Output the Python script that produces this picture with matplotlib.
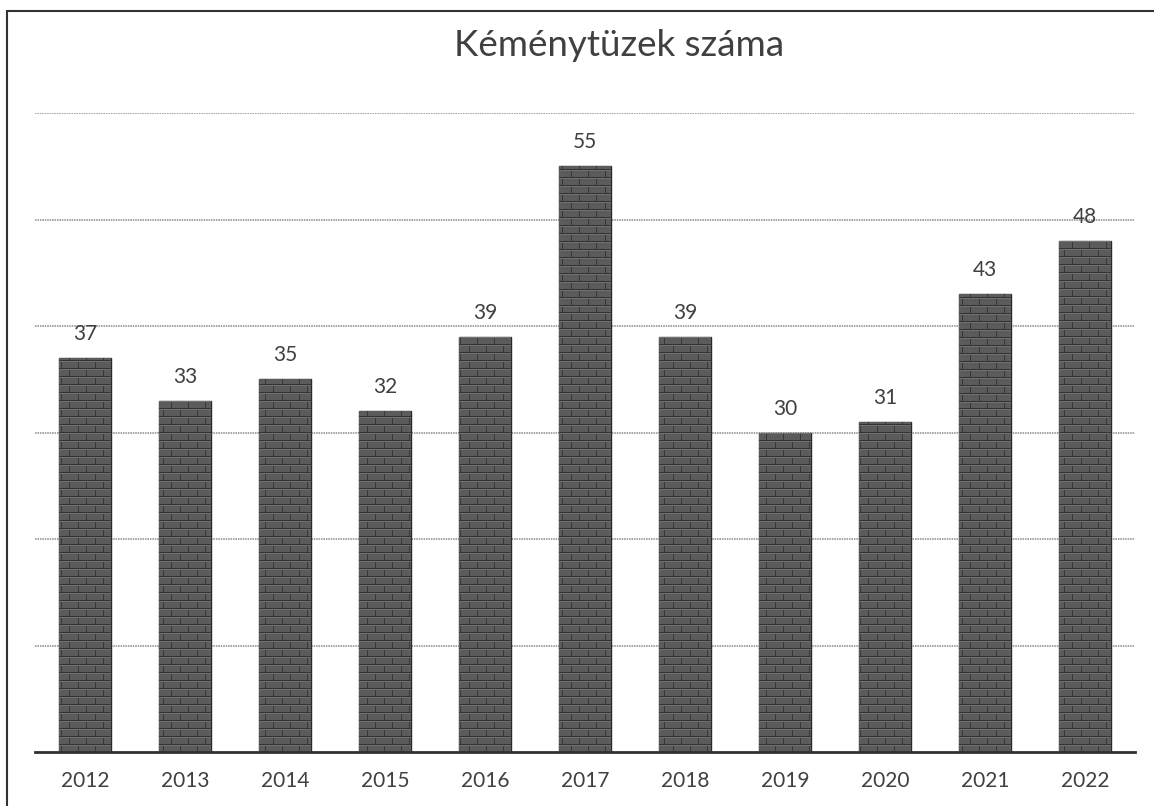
import numpy as np
import matplotlib.pyplot as plt
from matplotlib.patches import Rectangle

# --- DATA ---
years = ["2012", "2013", "2014", "2015", "2016", "2017",
         "2018", "2019", "2020", "2021", "2022"]
fires = [37, 33, 35, 32, 39, 55, 39, 30, 31, 43, 48]
title = "Kéménytüzek száma"

plt.rcParams['font.family'] = ['Lato', 'DejaVu Sans']


def brick_texture(w_px, h_px, brick_w=17, brick_h=8):
    """Gray brick texture with darker mortar lines (RGB array)."""
    img = np.full((h_px, w_px, 3), 0.36)
    rows = np.arange(h_px)
    cols = np.arange(w_px)
    img[rows % brick_h == 0, :, :] = 0.20
    for r in range(h_px):
        shift = (r // brick_h) % 2 * (brick_w // 2)
        mask = (cols + shift) % brick_w == 0
        img[r, mask, :] = 0.22
    # a faint light edge on the top of every brick row
    img[rows % brick_h == 1, :, :] = np.maximum(img[rows % brick_h == 1, :, :], 0.44)
    return img


fig = plt.figure(figsize=(11.54, 8.06), dpi=100)
ax = fig.add_axes([35 / 1154, 54 / 806, 1100 / 1154, 639 / 806])

x = np.arange(len(years))
bars = ax.bar(x, fires, width=0.52, color='#4d4d4d', edgecolor='#2a2a2a',
              linewidth=1.0, zorder=2)

ax.set_xlim(-0.5, len(years) - 0.5)
ax.set_ylim(0, 60)

# brick texture clipped to each bar
tex = brick_texture(1100, 640)
for b in bars:
    im = ax.imshow(tex, extent=(-0.5, len(years) - 0.5, 0, 60), origin='upper',
                   aspect='auto', interpolation='nearest', zorder=3)
    im.set_clip_path(b)

for b, v in zip(bars, fires):
    ax.annotate(f"{v}", (b.get_x() + b.get_width() / 2, v),
                xytext=(0, 10), textcoords='offset points',
                ha='center', va='bottom', fontsize=15, color='#404040')

# gridlines
ax.set_yticks([10, 20, 30, 40, 50, 60])
ax.yaxis.grid(True, color='#8a8a8a', linewidth=1.1, linestyle=(0, (1, 0.6)))
ax.set_axisbelow(True)
ax.tick_params(axis='y', left=False, labelleft=False)

ax.set_xticks(x)
ax.set_xticklabels(years, fontsize=15, color='#404040')
ax.tick_params(axis='x', length=0, pad=14)

for s in ['top', 'right', 'left']:
    ax.spines[s].set_visible(False)
ax.spines['bottom'].set_color('#303030')
ax.spines['bottom'].set_linewidth(2)
ax.spines['bottom'].set_zorder(4)

fig.text(619 / 1154, 1 - 45 / 806, title, ha='center', va='center',
         fontsize=26.5, color='#404040')

# outer frame of the chart area
fig.patches.append(Rectangle((7 / 1154, -0.1), 1.2, 1 - 11 / 806 + 0.1,
                             transform=fig.transFigure, fill=False,
                             edgecolor='#333333', linewidth=1.5))

plt.savefig("out.png", dpi=100)
plt.close()
